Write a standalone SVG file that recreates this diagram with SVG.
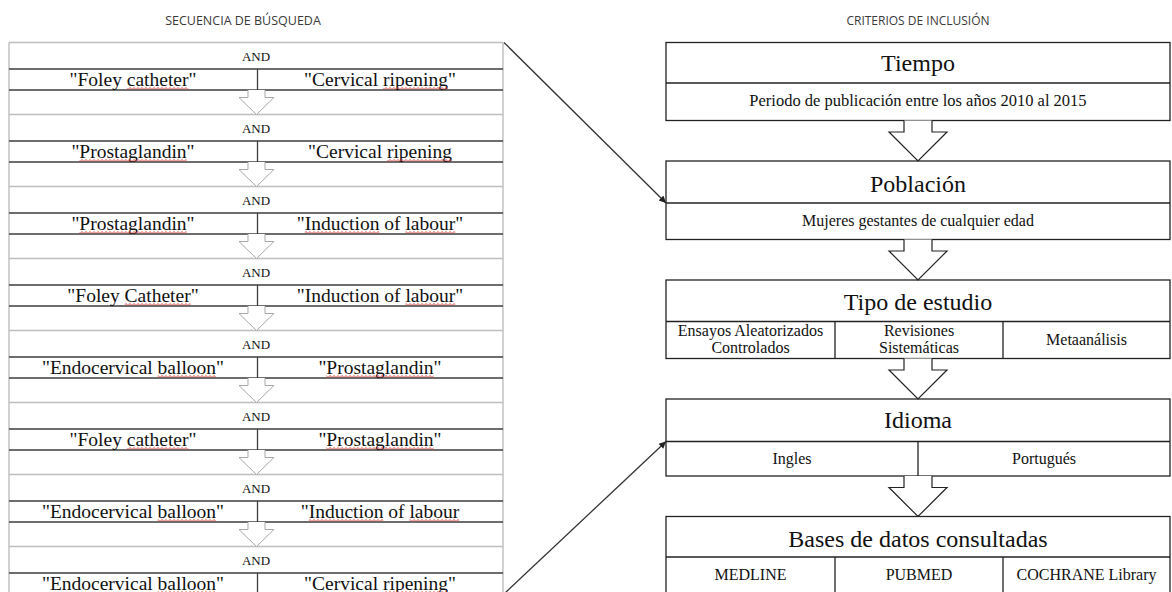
<svg xmlns="http://www.w3.org/2000/svg" xmlns:xlink="http://www.w3.org/1999/xlink" width="1172" height="592" viewBox="0 0 1172 592">
<style>
.ttl{font-family:'Open Sans','Liberation Sans',sans-serif;fill:#3a3a3a;text-anchor:middle}
.t{font-family:'Liberation Serif','Times New Roman','DejaVu Serif',serif;fill:#111;text-anchor:middle}
.and{font-size:13px}
.term{font-size:19.5px}
.hd{font-size:24px}
.sub{font-size:16px}
.gl{stroke:#bdbdbd;stroke-width:1.4}
.dl{stroke:#3c3c3c;stroke-width:1.3}
.box{fill:#fff;stroke:#222;stroke-width:1.3}
.ln{stroke:#222;stroke-width:1.3}
.larr{fill:#fff;stroke:#a8a8a8;stroke-width:1}
.rarr{fill:#fff;stroke:#222;stroke-width:1.2}
.sq{fill:url(#wave)}
.conn{stroke:#333;stroke-width:1.3;fill:none;marker-end:url(#ah)}
</style>
<defs>
<pattern id="wave" width="4" height="3" patternUnits="userSpaceOnUse"><path d="M0,2.5 L2,0.5 L4,2.5" fill="none" stroke="#e03030" stroke-width="0.9"/></pattern>
<marker id="ah" viewBox="0 0 10 10" refX="10" refY="5" markerWidth="9" markerHeight="7" orient="auto" markerUnits="userSpaceOnUse"><path d="M0,0 L10,5 L0,10 z" fill="#222"/></marker>
<path id="la" class="larr" d="M248,0 V7.5 H239 L256.5,24.5 L274,7.5 H265 V0"/>
<path id="ra" class="rarr" d="M904,0 V11.5 H889 L918,40.5 L947,11.5 H932 V0"/>
</defs>
<rect width="1172" height="592" fill="#fff"/>
<text class="ttl" x="243" y="24.5" font-size="12.5">SECUENCIA DE BÚSQUEDA</text>
<text class="ttl" x="918" y="24.5" font-size="12">CRITERIOS DE INCLUSIÓN</text>

<g id="search-table">
<line class="gl" x1="9" y1="42.5" x2="9" y2="600"/>
<line class="gl" x1="503" y1="42.5" x2="503" y2="600"/>
</g>

<g id="block1" font-family="Liberation Serif, serif">
<line class="gl" x1="9" y1="42.5" x2="503" y2="42.5"/>
<line class="dl" x1="9" y1="69" x2="503" y2="69"/>
<line class="dl" x1="9" y1="90" x2="503" y2="90"/>
<line class="dl" x1="257.5" y1="69" x2="257.5" y2="90"/>
<text class="t and" x="256" y="60.5">AND</text>
<text class="t term" x="133" y="85.5">"Foley catheter"</text>
<text class="t term" x="380" y="85.5">"Cervical ripening"</text>
<rect class="sq" x="126.8" y="87" width="61.7" height="3"/>
<rect class="sq" x="383" y="87" width="65" height="3"/>
<use xlink:href="#la" y="90"/>
</g>

<g id="block2">
<line class="gl" x1="9" y1="114.5" x2="503" y2="114.5"/>
<line class="dl" x1="9" y1="141" x2="503" y2="141"/>
<line class="dl" x1="9" y1="162" x2="503" y2="162"/>
<line class="dl" x1="257.5" y1="141" x2="257.5" y2="162"/>
<text class="t and" x="256" y="132.5">AND</text>
<text class="t term" x="133" y="157.5">"Prostaglandin"</text>
<text class="t term" x="380" y="157.5">"Cervical ripening</text>
<rect class="sq" x="79.4" y="159" width="107.3" height="3"/>
<rect class="sq" x="386.9" y="159" width="65" height="3"/>
<use xlink:href="#la" y="162"/>
</g>

<g id="block3">
<line class="gl" x1="9" y1="186.5" x2="503" y2="186.5"/>
<line class="dl" x1="9" y1="213" x2="503" y2="213"/>
<line class="dl" x1="9" y1="234" x2="503" y2="234"/>
<line class="dl" x1="257.5" y1="213" x2="257.5" y2="234"/>
<text class="t and" x="256" y="204.5">AND</text>
<text class="t term" x="133" y="229.5">"Prostaglandin"</text>
<text class="t term" x="380" y="229.5">"Induction of labour"</text>
<rect class="sq" x="79.4" y="231" width="107.3" height="3"/>
<rect class="sq" x="304.8" y="231" width="74.7" height="3"/>
<rect class="sq" x="405.5" y="231" width="49.8" height="3"/>
<use xlink:href="#la" y="234"/>
</g>

<g id="block4">
<line class="gl" x1="9" y1="258.5" x2="503" y2="258.5"/>
<line class="dl" x1="9" y1="285" x2="503" y2="285"/>
<line class="dl" x1="9" y1="306" x2="503" y2="306"/>
<line class="dl" x1="257.5" y1="285" x2="257.5" y2="306"/>
<text class="t and" x="256" y="276.5">AND</text>
<text class="t term" x="133" y="301.5">"Foley Catheter"</text>
<text class="t term" x="380" y="301.5">"Induction of labour"</text>
<rect class="sq" x="124.7" y="303" width="66" height="3"/>
<rect class="sq" x="405.5" y="303" width="49.8" height="3"/>
<use xlink:href="#la" y="306"/>
</g>

<g id="block5">
<line class="gl" x1="9" y1="330.5" x2="503" y2="330.5"/>
<line class="dl" x1="9" y1="357" x2="503" y2="357"/>
<line class="dl" x1="9" y1="378" x2="503" y2="378"/>
<line class="dl" x1="257.5" y1="357" x2="257.5" y2="378"/>
<text class="t and" x="256" y="348.5">AND</text>
<text class="t term" x="133" y="373.5">"Endocervical balloon"</text>
<text class="t term" x="380" y="373.5">"Prostaglandin"</text>
<rect class="sq" x="157.6" y="375" width="58.5" height="3"/>
<rect class="sq" x="326.4" y="375" width="107.3" height="3"/>
<use xlink:href="#la" y="378"/>
</g>

<g id="block6">
<line class="gl" x1="9" y1="402.5" x2="503" y2="402.5"/>
<line class="dl" x1="9" y1="429" x2="503" y2="429"/>
<line class="dl" x1="9" y1="450" x2="503" y2="450"/>
<line class="dl" x1="257.5" y1="429" x2="257.5" y2="450"/>
<text class="t and" x="256" y="420.5">AND</text>
<text class="t term" x="133" y="445.5">"Foley catheter"</text>
<text class="t term" x="380" y="445.5">"Prostaglandin"</text>
<rect class="sq" x="126.8" y="447" width="61.7" height="3"/>
<rect class="sq" x="326.4" y="447" width="107.3" height="3"/>
<use xlink:href="#la" y="450"/>
</g>

<g id="block7">
<line class="gl" x1="9" y1="474.5" x2="503" y2="474.5"/>
<line class="dl" x1="9" y1="501" x2="503" y2="501"/>
<line class="dl" x1="9" y1="522" x2="503" y2="522"/>
<line class="dl" x1="257.5" y1="501" x2="257.5" y2="522"/>
<text class="t and" x="256" y="492.5">AND</text>
<text class="t term" x="133" y="517.5">"Endocervical balloon"</text>
<text class="t term" x="380" y="517.5">"Induction of labour</text>
<rect class="sq" x="157.6" y="519" width="58.5" height="3"/>
<rect class="sq" x="308.7" y="519" width="74.7" height="3"/>
<rect class="sq" x="409.4" y="519" width="49.8" height="3"/>
<use xlink:href="#la" y="522"/>
</g>

<g id="block8">
<line class="gl" x1="9" y1="546.5" x2="503" y2="546.5"/>
<line class="dl" x1="9" y1="573" x2="503" y2="573"/>
<line class="dl" x1="9" y1="594" x2="503" y2="594"/>
<line class="dl" x1="257.5" y1="573" x2="257.5" y2="594"/>
<text class="t and" x="256" y="564.5">AND</text>
<text class="t term" x="133" y="589.5">"Endocervical balloon"</text>
<text class="t term" x="380" y="589.5">"Cervical ripening"</text>
<rect class="sq" x="157.6" y="591" width="58.5" height="3"/>
<rect class="sq" x="383" y="591" width="65" height="3"/>
</g>

<g id="tiempo">
<rect class="box" x="666" y="42.5" width="504" height="78"/>
<line class="ln" x1="666" y1="83" x2="1170" y2="83"/>
<text class="t hd" x="918" y="71">Tiempo</text>
<text class="t" x="918" y="105.5" font-size="16.5">Periodo de publicación entre los años 2010 al 2015</text>
</g>
<g id="poblacion">
<rect class="box" x="666" y="161" width="504" height="78.5"/>
<line class="ln" x1="666" y1="203" x2="1170" y2="203"/>
<text class="t hd" x="918" y="191.5">Población</text>
<text class="t sub" x="918" y="226">Mujeres gestantes de cualquier edad</text>
</g>
<g id="tipo">
<rect class="box" x="666" y="280" width="504" height="78.5"/>
<line class="ln" x1="666" y1="321.5" x2="1170" y2="321.5"/>
<line class="ln" x1="835" y1="321.5" x2="835" y2="358.5"/>
<line class="ln" x1="1003" y1="321.5" x2="1003" y2="358.5"/>
<text class="t hd" x="918" y="310">Tipo de estudio</text>
<text class="t sub" x="750.5" y="336">Ensayos Aleatorizados</text>
<text class="t sub" x="750.5" y="352.5">Controlados</text>
<text class="t sub" x="919" y="336">Revisiones</text>
<text class="t sub" x="919" y="352.5">Sistemáticas</text>
<text class="t sub" x="1086.5" y="344.5">Metaanálisis</text>
</g>
<g id="idioma">
<rect class="box" x="666" y="399" width="504" height="77"/>
<line class="ln" x1="666" y1="441.5" x2="1170" y2="441.5"/>
<line class="ln" x1="918" y1="441.5" x2="918" y2="476"/>
<text class="t hd" x="918" y="428">Idioma</text>
<text class="t sub" x="792" y="463.5">Ingles</text>
<text class="t sub" x="1044" y="463.5">Portugués</text>
</g>
<g id="bases">
<rect class="box" x="666" y="516.5" width="504" height="84"/>
<line class="ln" x1="666" y1="557" x2="1170" y2="557"/>
<line class="ln" x1="835" y1="557" x2="835" y2="600"/>
<line class="ln" x1="1003" y1="557" x2="1003" y2="600"/>
<text class="t hd" x="918" y="546.5">Bases de datos consultadas</text>
<text class="t sub" x="750.5" y="579.5">MEDLINE</text>
<text class="t sub" x="919" y="579.5">PUBMED</text>
<text class="t sub" x="1086.5" y="579.5">COCHRANE Library</text>
</g>

<g id="connectors">
<use xlink:href="#ra" y="120.5"/>
<use xlink:href="#ra" y="239.5"/>
<use xlink:href="#ra" y="358.5"/>
<use xlink:href="#ra" y="476"/>
<line class="conn" x1="504" y1="42.5" x2="666" y2="203"/>
<line class="conn" x1="505" y1="593" x2="666" y2="441.5"/>
</g>
</svg>
